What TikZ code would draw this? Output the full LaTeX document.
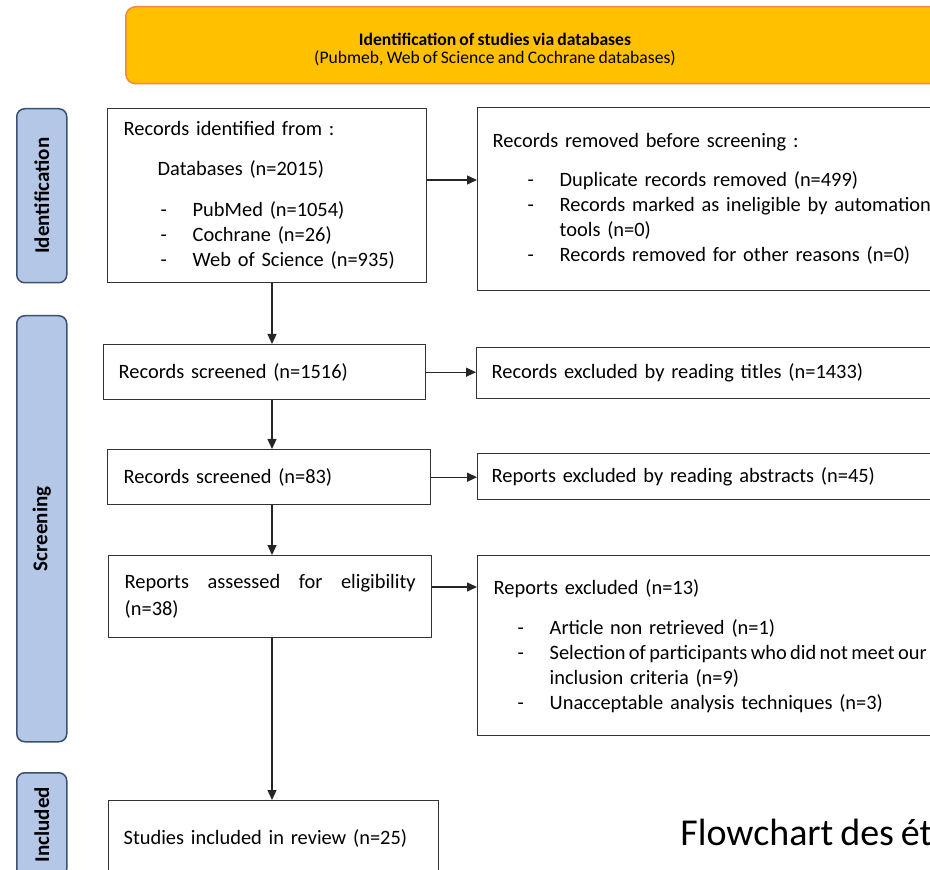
\documentclass[tikz,border=0pt]{standalone}
\usepackage{fontspec}
\setmainfont{Carlito}[WordSpace=0.8]
\usetikzlibrary{arrows.meta, positioning}
\definecolor{bannerfill}{HTML}{FFC000}
\definecolor{bannerline}{HTML}{F08A3C}
\definecolor{stagefill}{HTML}{B4C7E7}
\definecolor{stageline}{HTML}{3B5173}
\newcommand{\dashitem}[2]{\hspace*{#1}\makebox[16pt][l]{-}#2}

\begin{document}
\begin{tikzpicture}[x=0.5pt, y=-0.5pt,
    box/.style={draw=black!80, line width=0.7pt, anchor=north west, align=left, font=\fontsize{10.2pt}{12.5pt}\selectfont},
    banner/.style={draw=bannerline, fill=bannerfill, line width=0.75pt, rounded corners=5pt, anchor=north west},
    stage/.style={draw=stageline, fill=stagefill, line width=0.75pt, rounded corners=4pt, anchor=north west, minimum width=25pt},
    stagetext/.style={font=\fontsize{10.5pt}{12pt}\selectfont\bfseries, rotate=90},
    arr/.style={-{Triangle[length=5pt,width=4.5pt]}, line width=0.65pt, black!85}]
        \useasboundingbox (0,0) rectangle (930,870);
        \fill[white] (0,0) rectangle (930,870);
        \clip (0,0) rectangle (930,870);

        % Banner
        \node[banner, minimum width=450pt, minimum height=38.5pt] (banner) at (125,6) {};
        \node[font=\fontsize{8.8pt}{9pt}\selectfont, align=center] (bantext) at (495,50) {\textbf{Identification of studies via databases}\\(Pubmeb, Web of Science and Cochrane databases)};

        % Stages
        \node[stage, minimum height=87pt, label={[stagetext]center:Identification}] (idstage) at (16,108) {};
        \node[stage, minimum height=213pt, label={[stagetext]center:Screening}] (scrstage) at (16,315) {};
        \node[stage, minimum height=52pt, label={[stagetext]center:Included}] (incstage) at (16,772) {};

        % Main column
        \node[box, text width=143.5pt, inner xsep=8pt, minimum height=87pt] (ident) at (107,108) {Records identified from :\\[7.5pt]
            \hspace*{17pt}Databases (n=2015)\\[8pt]
            \dashitem{18.5pt}{PubMed (n=1054)}\\
            \dashitem{18.5pt}{Cochrane (n=26)}\\
            \dashitem{18.5pt}{Web of Science (n=935)}};
        \node[box, text width=146pt, inner xsep=7.5pt, minimum height=27.5pt] (screen1) at (103,344) {Records screened (n=1516)};
        \node[box, text width=145.5pt, inner xsep=8pt, minimum height=27.5pt] (screen2) at (107,449) {Records screened (n=83)};
        \node[box, text width=145.5pt, inner xsep=8pt, minimum height=41pt] (assess) at (108,555) {\hbox to 145.5pt{Reports\hfill assessed\hfill for\hfill eligibility}\\[1pt](n=38)};
        \node[box, text width=150pt, inner xsep=7.5pt, minimum height=38pt] (studies) at (108,800) {Studies included in review (n=25)};

        % Side column
        \node[box, text width=264pt, inner xsep=7.5pt, minimum height=91.5pt] (removed) at (477,107) {Records removed before screening :\\[7pt]
            \dashitem{17.5pt}{Duplicate records removed (n=499)}\\
            \dashitem{17.5pt}{Records marked as ineligible by automation}\\
            \hspace*{33.5pt}tools (n=0)\\
            \dashitem{17.5pt}{Records removed for other reasons (n=0)}};
        \node[box, text width=264pt, inner xsep=7.5pt, minimum height=25.5pt] (titles) at (476,347) {Records excluded by reading titles (n=1433)};
        \node[box, text width=265pt, inner xsep=7pt, minimum height=23pt] (abstracts) at (477,453) {Reports excluded by reading abstracts (n=45)};
        \node[box, text width=264pt, inner xsep=8pt, minimum height=90pt] (excluded) at (477,555) {Reports excluded (n=13)\\[7.5pt]
            \dashitem{12pt}{Article non retrieved (n=1)}\\
            \dashitem{12pt}{{\spaceskip=1.7pt Selection of participants who did not meet our}}\\
            \hspace*{28pt}inclusion criteria (n=9)\\
            \dashitem{12pt}{Unacceptable analysis techniques (n=3)}};

        % Caption
        \node[anchor=base west, inner sep=0pt, font=\fontsize{19pt}{21pt}\selectfont] (caption) at (680,845) {Flowchart des ét};

        % Arrows
        \coordinate (spine) at (272,0);
        \coordinate (row1) at (0,180);
        \coordinate (row4) at (0,587);
        \draw[arr] (ident.east |- row1) -- (removed.west |- row1);
        \draw[arr] (screen1.east) -- (screen1.east -| titles.west);
        \draw[arr] (screen2.east) -- (screen2.east -| abstracts.west);
        \draw[arr] (assess.east |- row4) -- (excluded.west |- row4);
        \draw[arr] (ident.south -| spine) -- (screen1.north -| spine);
        \draw[arr] (screen1.south -| spine) -- (screen2.north -| spine);
        \draw[arr] (screen2.south -| spine) -- (assess.north -| spine);
        \draw[arr] (assess.south -| spine) -- (studies.north -| spine);
    \end{tikzpicture}
\end{document}
